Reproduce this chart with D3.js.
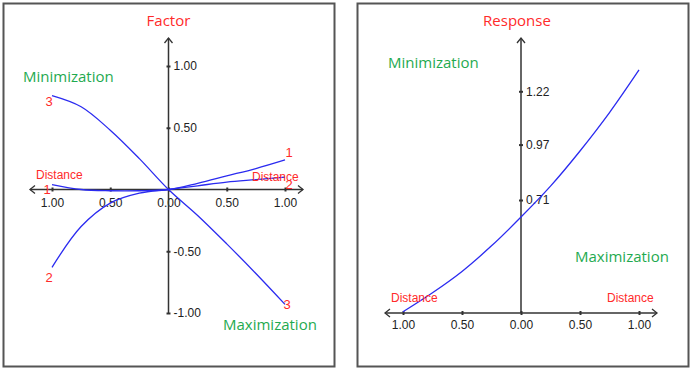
<!DOCTYPE html>
<html>
<head>
<meta charset="utf-8">
<script src="https://cdn.jsdelivr.net/npm/d3@7"></script>
<style>
  body { margin: 0; background: #fff; }
  svg { display: block; }
  text { font-family: "Liberation Sans", Arial, sans-serif; }
  .big { font-family: "Open Sans", "Noto Sans", sans-serif; }
</style>
</head>
<body>
<svg id="chart" width="692" height="371"></svg>
<script>
// distance positions (left side = -1..0, right side = 0..1)
let distances = [-1, -0.75, -0.5, -0.25, 0, 0.25, 0.5, 0.75, 1];
let factor1 = [0.04, 0.0, -0.01, -0.01, 0, 0.05, 0.11, 0.17, 0.24];
let factor2 = [-0.63, -0.30, -0.11, -0.03, 0, 0.03, 0.06, 0.08, 0.10];
let factor3 = [0.76, 0.67, 0.48, 0.25, 0, -0.21, -0.44, -0.68, -0.93];
let response = [0.186, 0.275, 0.375, 0.495, 0.63, 0.775, 0.94, 1.12, 1.32];

let xTicks = [-1, -0.5, 0, 0.5, 1];
let factorTicks = [1, 0.5, -0.5, -1];
let responseTicks = [0.71, 0.97, 1.22];

let red = '#ff2a2a', green = '#1faa50', blue = '#2b2bf0', axisCol = '#333';
let fmt = d3.formatLocale({decimal: '.', thousands: ',', grouping: [3], currency: ['', ''], minus: '-'}).format('.2f');
let svg = d3.select('#chart');

// frames
svg.append('rect').attr('x', 3.5).attr('y', 3.5).attr('width', 331).attr('height', 363)
   .attr('fill', 'none').attr('stroke', '#555').attr('stroke-width', 2);
svg.append('rect').attr('x', 357.5).attr('y', 3.5).attr('width', 331).attr('height', 363)
   .attr('fill', 'none').attr('stroke', '#555').attr('stroke-width', 2);

function chevron(g, x, y, dir){
    let s = 5;
    let p;
    if (dir == 'left') p = [[x + s, y - s + 1], [x, y], [x + s, y + s - 1]];
    if (dir == 'right') p = [[x - s, y - s + 1], [x, y], [x - s, y + s - 1]];
    if (dir == 'up') p = [[x - s + 1, y + s], [x, y], [x + s - 1, y + s]];
    g.append('path').attr('d', d3.line()(p)).attr('fill', 'none')
     .attr('stroke', axisCol).attr('stroke-width', 1.3);
}

function drawAxes(g, xScale, yScale, yAxisX, xAxisY, yTicks, xLeft, xRight, yTop, yBottom, labelY){
    // horizontal axis
    g.append('line').attr('x1', xLeft).attr('x2', xRight).attr('y1', xAxisY).attr('y2', xAxisY)
     .attr('stroke', axisCol).attr('stroke-width', 1.5);
    chevron(g, xLeft, xAxisY, 'left');
    chevron(g, xRight, xAxisY, 'right');
    let xa = g.append('g').attr('transform', `translate(0,${xAxisY})`)
        .call(d3.axisBottom(xScale).tickValues(xTicks).tickSize(2).tickFormat(d => fmt(Math.abs(d))));
    xa.select('.domain').remove();
    xa.selectAll('line').attr('y1', -2).attr('y2', 2).attr('stroke', axisCol).attr('stroke-width', 2);
    xa.selectAll('text').attr('y', labelY - xAxisY).attr('dy', '0.35em')
      .attr('font-size', 12).attr('fill', '#222').attr('font-family', '"Liberation Sans", Arial, sans-serif');

    // vertical axis
    g.append('line').attr('x1', yAxisX).attr('x2', yAxisX).attr('y1', yTop).attr('y2', yBottom)
     .attr('stroke', axisCol).attr('stroke-width', 1.5);
    chevron(g, yAxisX, yTop, 'up');
    let ya = g.append('g').attr('transform', `translate(${yAxisX},0)`)
        .call(d3.axisRight(yScale).tickValues(yTicks).tickSize(2).tickFormat(fmt));
    ya.select('.domain').remove();
    ya.selectAll('line').attr('x1', -2).attr('x2', 2).attr('stroke', axisCol).attr('stroke-width', 2);
    ya.selectAll('text').attr('x', 5).attr('font-size', 12).attr('fill', '#222')
      .attr('font-family', '"Liberation Sans", Arial, sans-serif');
}

function label(g, txt, x, y, color, size, anchor, cls){
    g.append('text').attr('x', x).attr('y', y).attr('dy', '0.35em')
     .attr('text-anchor', anchor || 'start').attr('fill', color)
     .attr('font-size', size).attr('class', cls || null).text(txt);
}

// ---------- left panel: Factor ----------
let left = svg.append('g');
let xL = d3.scaleLinear().domain([-1, 1]).range([52, 285]);
let yL = d3.scaleLinear().domain([-1, 1]).range([313, 66]);
drawAxes(left, xL, yL, xL(0), yL(0), factorTicks, 30, 303, 38, yL(-1), 203);

let lineL = d3.line().x((d, i) => xL(distances[i])).y(d => yL(d)).curve(d3.curveCatmullRom);
[factor1, factor2, factor3].forEach(s => {
    left.append('path').attr('d', lineL(s)).attr('fill', 'none')
        .attr('stroke', blue).attr('stroke-width', 1.3);
});

label(left, 'Factor', xL(0), 21, red, 15, 'middle', 'big');
label(left, 'Minimization', 23, 77, green, 15, 'start', 'big');
label(left, 'Maximization', 223, 325, green, 15, 'start', 'big');
label(left, 'Distance', 36, 175, red, 12);
label(left, 'Distance', 252, 177, red, 12);

let last = distances.length - 1;
let seriesNames = ['1', '2', '3'];
let leftOff = [[-5, 5], [-3, 10], [-3, 6]];
let rightOff = [[4, -7], [4, 7], [2, 0]];
[factor1, factor2, factor3].forEach((s, k) => {
    label(left, seriesNames[k], xL(distances[0]) + leftOff[k][0], yL(s[0]) + leftOff[k][1], red, 13, 'middle');
    label(left, seriesNames[k], xL(distances[last]) + rightOff[k][0], yL(s[last]) + rightOff[k][1], red, 13, 'middle');
});

// ---------- right panel: Response ----------
let right = svg.append('g');
let xR = d3.scaleLinear().domain([-1, 1]).range([403, 639]);
let yR = d3.scaleLinear().domain([0.18, 1.47]).range([313, 38]);
drawAxes(right, xR, yR, xR(0), 313, responseTicks, 385, 657, 38, 313, 325);

let lineR = d3.line().x((d, i) => xR(distances[i])).y(d => yR(d)).curve(d3.curveCatmullRom);
right.append('path').attr('d', lineR(response)).attr('fill', 'none')
     .attr('stroke', blue).attr('stroke-width', 1.3);

label(right, 'Response', xR(0) - 4, 21, red, 15, 'middle', 'big');
label(right, 'Minimization', 388, 63, green, 15, 'start', 'big');
label(right, 'Maximization', 575, 257, green, 15, 'start', 'big');
label(right, 'Distance', 391, 298, red, 12);
label(right, 'Distance', 607, 298, red, 12);
</script>
</body>
</html>
